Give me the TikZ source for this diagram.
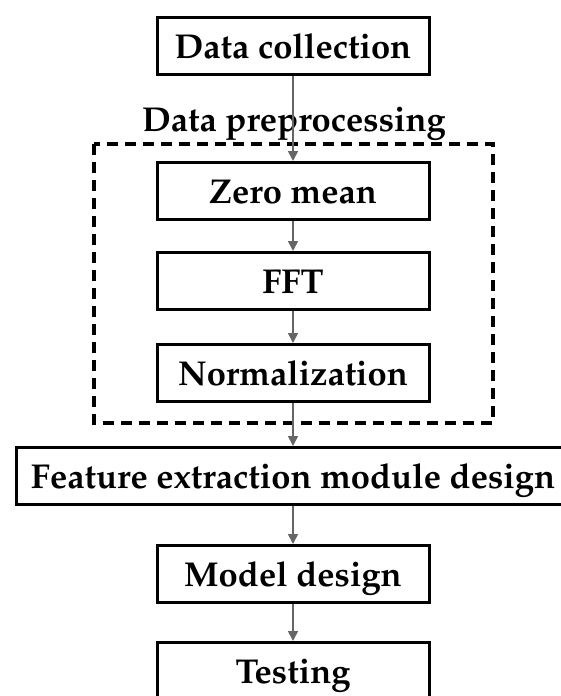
\documentclass[tikz,border=0pt]{standalone}
\usepackage[T1]{fontenc}
\usepackage{mathpazo}
\usepackage[]{tikz}
\usetikzlibrary{positioning,arrows.meta}
\tikzset{stepbox/.style={draw,line width=3pt,minimum width=272pt,minimum height=57pt,inner sep=0pt,text height=24pt,text depth=0pt,font=\fontsize{34.5}{40}\selectfont\bfseries}}
\tikzset{flow/.style={draw=black!60,line width=1.6pt,-{Triangle[length=10pt,width=10pt,fill=black!60]}}}

\begin{document}
\begin{tikzpicture}[x=1pt,y=-1pt]
            \useasboundingbox (0,0) rectangle (561,696); % 画布大小
            \node[stepbox] (collect) at (293,46) {Data collection};
            \node[anchor=base,font=\fontsize{34.5}{40}\selectfont\bfseries] (prelabel) at (294,131) {Data preprocessing};
            \draw[line width=3.2pt,dash pattern=on 11pt off 7pt] (94,144) rectangle (493,423); % 预处理虚线框
            \node[stepbox] (zero) at (293,191) {Zero mean};
            \node[stepbox] (fft) at (293,281) {FFT};
            \node[stepbox] (norm) at (293,373) {Normalization};
            \node[stepbox,minimum width=554pt] (feat) at (293,476) {Feature extraction module design};
            \node[stepbox] (model) at (293,574) {Model design};
            \node[stepbox] (test) at (293,671) {Testing};
            % 箭头
            \draw[flow] (collect) -- (zero);
            \draw[flow] (zero) -- (fft);
            \draw[flow] (fft) -- (norm);
            \draw[flow] (norm) -- (feat);
            \draw[flow] (feat) -- (model);
            \draw[flow] (model) -- (test);
        \end{tikzpicture}
\end{document}
